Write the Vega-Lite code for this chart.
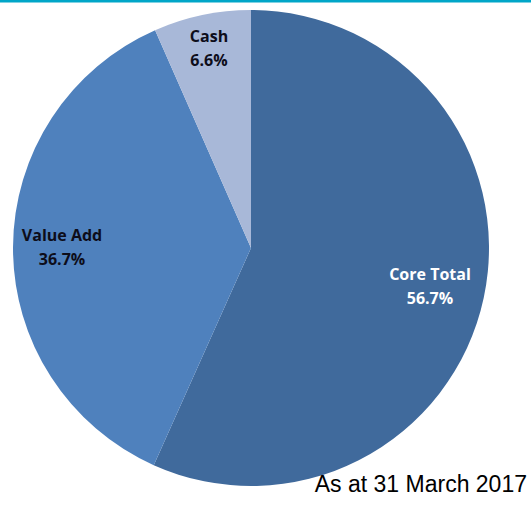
{
  "$schema": "https://vega.github.io/schema/vega-lite/v6.json",
  "width": 531,
  "height": 496,
  "autosize": {"type": "none"},
  "padding": {"top": 0, "left": 0, "right": 0, "bottom": 13},
  "background": "white",
  "view": {"stroke": "#00A6C8", "strokeWidth": 5, "strokeDash": [531, 20000]},
  "title": {
    "text": "As at 31 March 2017",
    "orient": "bottom",
    "anchor": "end",
    "frame": "group",
    "offset": -4,
    "baseline": "alphabetic",
    "dx": -4,
    "font": "Liberation Sans",
    "fontSize": 23,
    "fontWeight": "normal",
    "color": "#000000"
  },
  "data": {
    "values": [
      {"segment": "Core Total", "share": 56.7},
      {"segment": "Value Add", "share": 36.7},
      {"segment": "Cash", "share": 6.6}
    ]
  },
  "transform": [
    {"calculate": "datum.segment + '\\n' + format(datum.share, '.1f') + '%'", "as": "label"}
  ],
  "encoding": {
    "theta": {"field": "share", "type": "quantitative", "stack": true},
    "order": {"field": "share", "type": "quantitative", "sort": "descending"}
  },
  "layer": [
    {
      "mark": {"type": "arc", "outerRadius": 238, "xOffset": -14.5, "stroke": null},
      "encoding": {
        "color": {
          "field": "segment",
          "type": "nominal",
          "scale": {
            "domain": ["Core Total", "Value Add", "Cash"],
            "range": ["#406A9C", "#4F81BD", "#A8B8D8"]
          },
          "legend": null
        }
      }
    },
    {
      "mark": {
        "type": "text",
        "radius": {"expr": "datum.segment === 'Cash' ? 204 : datum.segment === 'Value Add' ? 189 : 183"},
        "xOffset": -14.5,
        "dy": -11,
        "lineBreak": "\n",
        "lineHeight": 24,
        "font": "Open Sans",
        "fontWeight": "bold",
        "fontSize": 16,
        "baseline": "middle"
      },
      "encoding": {
        "text": {"field": "label"},
        "fill": {
          "condition": {"test": "datum.segment === 'Core Total'", "value": "#FFFFFF"},
          "value": "#0D0D1A"
        }
      }
    }
  ]
}
